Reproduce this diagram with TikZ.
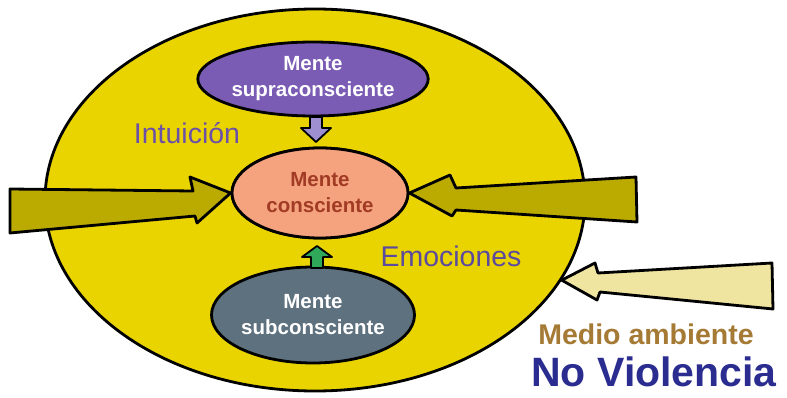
\documentclass[tikz,border=0pt]{standalone}
\usepackage{fontspec}
\setmainfont{Liberation Sans}
\usetikzlibrary{shapes.geometric}
\definecolor{bigyellow}{HTML}{EAD400}
\definecolor{olivearrow}{HTML}{BBAA00}
\definecolor{palearrow}{HTML}{EFE4A0}
\definecolor{supracol}{HTML}{7A5CB4}
\definecolor{conscol}{HTML}{F4A37E}
\definecolor{subcol}{HTML}{5E717E}
\definecolor{constext}{HTML}{A23B25}
\definecolor{intucol}{HTML}{6B50A8}
\definecolor{emocol}{HTML}{5B4A9E}
\definecolor{mediocol}{HTML}{A57A35}
\definecolor{novicol}{HTML}{2B2C8F}
\definecolor{lavarrow}{HTML}{9E8FD0}
\definecolor{greenarrow}{HTML}{2FA85A}
\tikzset{
  outline/.style={draw=black, line width=2.8pt, line join=round},
  mind/.style={ellipse, outline, inner sep=0pt, align=center, font=\fontsize{20.5}{26}\selectfont\bfseries},
  label/.style={inner sep=0pt, font=\fontsize{28.5}{30}\selectfont}
}
\begin{document}
\begin{tikzpicture}[x=1pt,y=-1pt]
\useasboundingbox (0,0) rectangle (787,398);
% big ellipse
\node[ellipse, outline, fill=bigyellow, minimum width=540, minimum height=382, inner sep=0pt] (world) at (315,200) {};
% conscious mind (drawn first so arrows can be anchored to it)
\node[mind, fill=conscol, minimum width=176, minimum height=90, text=constext] (cons) at (320,193) {Mente\\consciente};
\coordinate (ltip) at (cons.west);
\coordinate (rtip) at (cons.east);
\coordinate (ptip) at (world.-18);
% left and right olive arrows
\draw[outline, fill=olivearrow] (10,189) -- (193,191) -- (190,177) -- (ltip) -- (197,223) -- (195,216) -- (10,233) -- cycle;
\draw[outline, fill=olivearrow] (rtip) -- (450,175) -- (456,188) -- (636,177) -- (637,222) -- (456,210) -- (452,216) -- cycle;
\node[mind, fill=conscol, minimum width=176, minimum height=90, text=constext] at (cons) {Mente\\consciente};
% pale arrow
\draw[outline, fill=palearrow] (ptip) -- (595,263) -- (598,273) -- (772,263) -- (773,309) -- (600,292) -- (597,300) -- cycle;
% supra and sub
\node[mind, fill=supracol, minimum width=190, minimum height=74, text=white] (supra) at (313,79) {Mente\\supraconsciente};
\node[mind, fill=subcol, minimum width=200, minimum height=96, text=white] (sub) at (313,315) {Mente\\subconsciente};
% small arrows
\draw[line width=1.8pt, fill=lavarrow, line join=round] (310,117) -- (322,117) -- (322,128) -- (331,128) -- (316,142) -- (301,128) -- (310,128) -- cycle;
\draw[line width=1.8pt, fill=greenarrow, line join=round] (311,268) -- (323,268) -- (323,257) -- (332,257) -- (317,246) -- (302,257) -- (311,257) -- cycle;
% labels
\node[label, text=intucol] (intu) at (187,133) {Intuición};
\node[label, text=emocol] (emo) at (451,256) {Emociones};
\node[label, text=mediocol, font=\fontsize{28.5}{30}\selectfont\bfseries] (medio) at (646,334) {Medio ambiente};
\node[label, text=novicol, font=\fontsize{41}{42}\selectfont\bfseries] (novi) at (654,372) {No Violencia};
\end{tikzpicture}
\end{document}
